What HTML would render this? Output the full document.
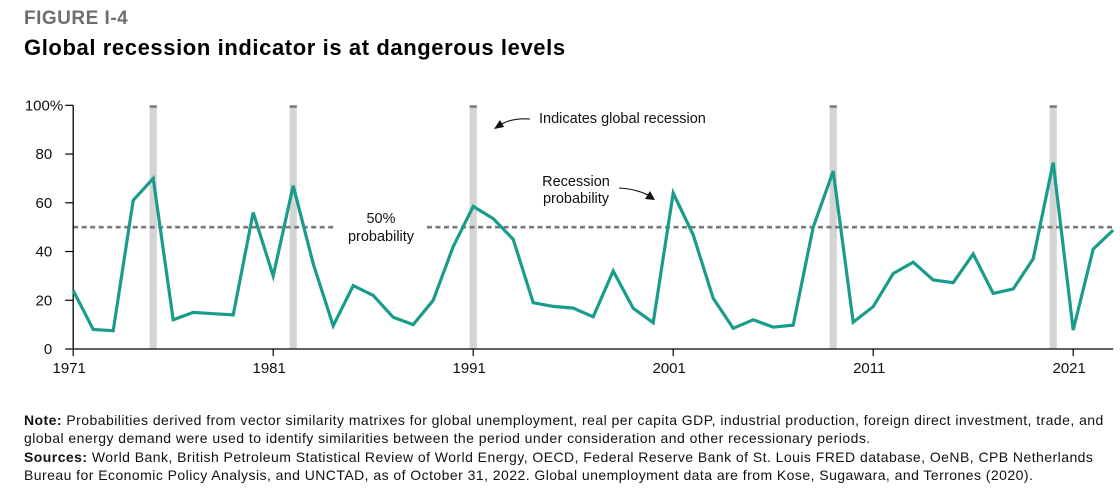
<!DOCTYPE html>
<html><head><meta charset="utf-8">
<style>
body{margin:0;width:1120px;height:497px;background:#fff;font-family:"Liberation Sans",sans-serif;overflow:hidden;position:relative}
.fig{position:absolute;left:24px;top:8px;font-size:19px;font-weight:bold;color:#6d6e71;letter-spacing:0.5px}
.title{position:absolute;left:24px;top:35px;font-size:22px;font-weight:bold;color:#000;letter-spacing:0.6px}
.note{position:absolute;left:24px;font-size:14px;color:#111;line-height:18px;width:1095px;letter-spacing:0.45px}
</style></head><body>
<div class="fig">FIGURE I-4</div>
<div class="title">Global recession indicator is at dangerous levels</div>
<svg id="chart" width="1120" height="400" style="position:absolute;left:0;top:0"></svg>
<div class="note" style="top:411px"><b>Note:</b> Probabilities derived from vector similarity matrixes for global unemployment, real per capita GDP, industrial production, foreign direct investment, trade, and global energy demand were used to identify similarities between the period under consideration and other recessionary periods.</div>
<div class="note" style="top:448px"><b>Sources:</b> World Bank, British Petroleum Statistical Review of World Energy, OECD, Federal Reserve Bank of St. Louis FRED database, OeNB, CPB Netherlands Bureau for Economic Policy Analysis, and UNCTAD, as of October 31, 2022. Global unemployment data are from Kose, Sugawara, and Terrones (2020).</div>
<script>
const startYear = 1971;
const values = [24,8,7.5,61,70,12,15,14.5,14,56,30,67,35,9.5,26,22,13,10,20,42,58.5,53.5,45,19,17.5,16.8,13.2,32,16.7,10.8,64,46.8,20.8,8.5,12,9,9.8,50,73,11,17.4,31,35.6,28.3,27.2,39,22.8,24.6,37,76.5,7.8,41,48.8];
const recessionYears = [1975,1982,1991,2009,2020];
const xTickYears = [1971,1981,1991,2001,2011,2021];
const yTicks = [0,20,40,60,80,100];
const threshold = 50;

const svg = document.getElementById('chart');
const NS = 'http://www.w3.org/2000/svg';
const x0 = 73.2, pxPerYear = 20, yZero = 349, yTop = 105.3;
const X = yr => x0 + (yr - startYear) * pxPerYear;
const Y = v => yZero - (v / 100) * (yZero - yTop);
function mk(tag, attrs){const e=document.createElementNS(NS,tag);for(const k in attrs)e.setAttribute(k,attrs[k]);svg.appendChild(e);return e;}

recessionYears.forEach(yr=>{
  const r = mk('rect',{x:X(yr)-3.6,y:Y(100),width:7.2,height:yZero-Y(100),fill:'#d4d4d5'});
  
  
  const c = mk('rect',{x:X(yr)-3.6,y:Y(100),width:7.2,height:2.5,fill:'#7a7a7a'});
  
  
});

const xEnd = X(startYear + values.length - 1);
const d1 = mk('line',{x1:x0,x2:335,y1:Y(threshold),y2:Y(threshold),stroke:'#7a7a7a','stroke-width':2.6,'stroke-dasharray':'5,3.5'});


const d2 = mk('line',{x1:427,x2:xEnd,y1:Y(threshold),y2:Y(threshold),stroke:'#7a7a7a','stroke-width':2.6,'stroke-dasharray':'5,3.5'});



const ax = mk('line',{x1:x0,x2:x0,y1:Y(100),y2:yZero,stroke:'#000','stroke-width':1.3});


const bx = mk('line',{x1:x0,x2:xEnd,y1:yZero,y2:yZero,stroke:'#000','stroke-width':1.3});



yTicks.forEach(v=>{
  const t = mk('line',{x1:x0-8,x2:x0,y1:Y(v),y2:Y(v),stroke:'#000','stroke-width':1.2});
  
  
  const l = mk('text',{x:v===100?x0-10:x0-21,y:Y(v)+5,'text-anchor':'end','font-size':15,fill:'#111'});
  l.textContent = v===100 ? '100%' : v;
  
  
});
xTickYears.forEach(yr=>{
  const t = mk('line',{x1:X(yr),x2:X(yr),y1:yZero,y2:yZero+7,stroke:'#000','stroke-width':1.2});
  
  
  const l = mk('text',{x:X(yr)-4,y:yZero+24,'text-anchor':'middle','font-size':15,fill:'#111'});
  l.textContent = yr;
  
  
});

const pts = values.map((v,i)=>X(startYear+i).toFixed(1)+','+Y(v).toFixed(1)).join(' ');
const line = mk('polyline',{points:pts,fill:'none',stroke:'#1a9c8c','stroke-width':3.2,'stroke-linejoin':'miter'});



function txt(s,x,y,name,anchor){const t=mk('text',{x:x,y:y,'font-size':14.5,fill:'#111','text-anchor':anchor||'start'});t.textContent=s;

return t;}
txt('50%',381,223,'threshold-label','middle');
txt('probability',381,241,'threshold-label-2','middle');
txt('Indicates global recession',539,123,'recession-legend-label');
txt('Recession',576,186,'probability-annotation','middle');
txt('probability',576,203,'probability-annotation-2','middle');
const a1 = mk('path',{d:'M530,119 Q512,118 502,124',fill:'none',stroke:'#111','stroke-width':1.1});


const h1 = mk('path',{d:'M494,129 L500,120 L504,127 Z',fill:'#111'});


const a2 = mk('path',{d:'M619,188 Q636,189 648,195',fill:'none',stroke:'#111','stroke-width':1.1});


const h2 = mk('path',{d:'M655,200 L645,199 L650,191 Z',fill:'#111'});


</script>
</body></html>
